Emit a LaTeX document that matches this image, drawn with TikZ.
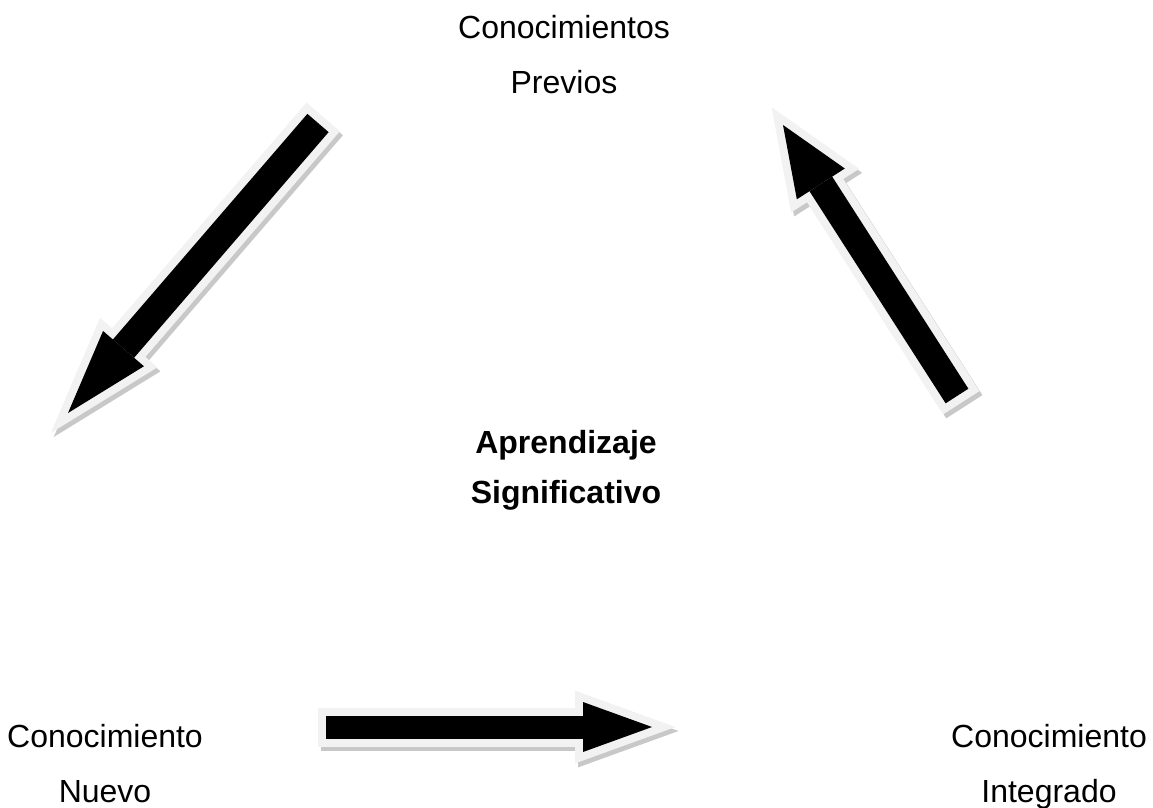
\documentclass[tikz,border=0pt]{standalone}
\usepackage{fontspec}
\setmainfont{Liberation Sans}
\usetikzlibrary{arrows.meta, calc}
\definecolor{rimgray}{RGB}{242,242,242}
\definecolor{shadowgray}{RGB}{200,200,200}
\tikzset{
  conceptbox/.style={align=center, inner sep=0pt, anchor=base, font=\fontsize{24}{41.25}\selectfont},
  mainbox/.style={conceptbox, font=\fontsize{24}{37.5}\selectfont\bfseries},
  arrowshadow/.style={draw=shadowgray, transform canvas={shift={(2.25pt,-3pt)}}},
  arrowrim/.style={draw=rimgray},
  arrowcore/.style={draw=black}
}
% block arrow: from, to, shaft width, head length, head width (all in px)
\newcommand{\blockarrow}[5]{%
  \pgfmathsetmacro{\shaftw}{0.75*#3}%
  \pgfmathsetmacro{\headl}{0.75*#4}%
  \pgfmathsetmacro{\headw}{0.75*#5}%
  \pgfmathsetmacro{\tipext}{6*sqrt(\headl*\headl+\headw*\headw/4)/(\headw/2)}%
  \pgfmathsetmacro{\rimw}{\shaftw+12}%
  \pgfmathsetmacro{\rimhl}{\headl+6+\tipext}%
  \pgfmathsetmacro{\rimhw}{\headw*\rimhl/\headl}%
  \draw[arrowshadow, line width=\rimw pt, shorten <=-6pt, shorten >=-\tipext pt,
        -{Triangle[length=\rimhl pt, width=\rimhw pt, line width=0pt]}] (#1) -- (#2);
  \draw[arrowrim, line width=\rimw pt, shorten <=-6pt, shorten >=-\tipext pt,
        -{Triangle[length=\rimhl pt, width=\rimhw pt, line width=0pt]}] (#1) -- (#2);
  \draw[arrowcore, line width=\shaftw pt,
        -{Triangle[length=\headl pt, width=\headw pt, line width=0pt]}] (#1) -- (#2);
}

\begin{document}
\begin{tikzpicture}[x=0.75pt, y=-0.75pt]
  \useasboundingbox (0,0) rectangle (1153,807);

  \node[conceptbox] (previos) at (564,93) {Conocimientos\\Previos};
  \node[mainbox] (aprendizaje) at (566,503) {Aprendizaje\\Significativo};
  \node[conceptbox] (nuevo) at (105,802) {Conocimiento\\Nuevo};
  \node[conceptbox] (integrado) at (1049,802) {Conocimiento\\Integrado};

  \coordinate (leftfrom) at (318,123);
  \coordinate (leftto) at (68,413);
  \coordinate (rightfrom) at (957,396);
  \coordinate (rightto) at (783,125);
  \coordinate (bottomfrom) at (326,727);
  \coordinate (bottomto) at (652,727);

  \blockarrow{leftfrom}{leftto}{28}{85}{54}
  \blockarrow{rightfrom}{rightto}{27}{70}{57}
  \blockarrow{bottomfrom}{bottomto}{23}{69}{50}
\end{tikzpicture}
\end{document}
